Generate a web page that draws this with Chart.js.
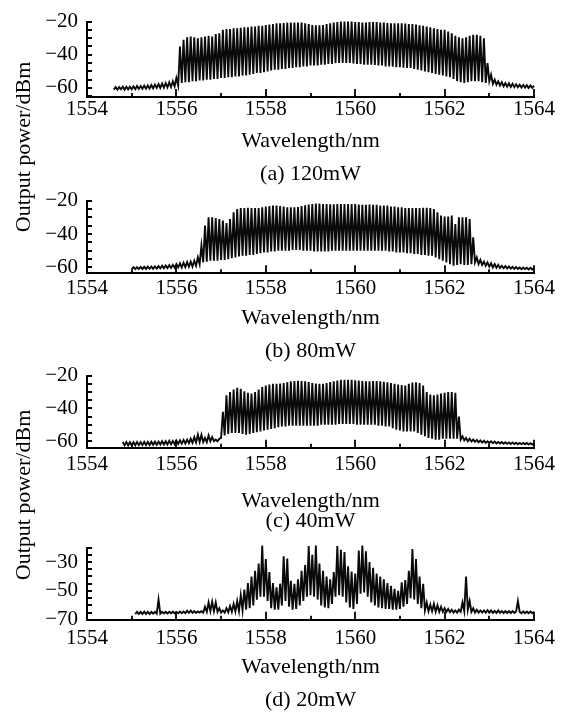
<!DOCTYPE html>
<html><head><meta charset="utf-8">
<script src="https://cdn.jsdelivr.net/npm/chart.js@4.4.1/dist/chart.umd.min.js"></script>
<style>
html,body{margin:0;padding:0;background:#fff;width:568px;height:712px;overflow:hidden;position:relative;font-family:'Liberation Serif','Times New Roman',serif;}
canvas{position:absolute;left:0;}
.ylab{position:absolute;font-size:22px;line-height:22px;white-space:nowrap;transform:translate(-50%,-50%) rotate(-90deg);color:#000;}
</style></head><body>
<canvas id="ca" width="568" height="187" style="top:0px"></canvas>
<canvas id="cb" width="568" height="185" style="top:179px"></canvas>
<canvas id="cc" width="568" height="180" style="top:354px"></canvas>
<canvas id="cd" width="568" height="187" style="top:526px"></canvas>
<div class="ylab" style="left:22.6px;top:147px">Output power/dBm</div>
<div class="ylab" style="left:22.6px;top:495px">Output power/dBm</div>
<script>
// ---- data ----
const wl = [
1554.60,1554.64,1554.68,1554.72,1554.76,1554.80,1554.84,1554.88,1554.92,1554.96,
1555.00,1555.04,1555.08,1555.12,1555.16,1555.20,1555.24,1555.28,1555.32,1555.36,
1555.40,1555.44,1555.48,1555.52,1555.56,1555.60,1555.64,1555.68,1555.72,1555.76,
1555.80,1555.84,1555.88,1555.92,1555.96,1556.00,1556.04,1556.08,1556.12,1556.16,
1556.20,1556.24,1556.28,1556.32,1556.36,1556.40,1556.44,1556.48,1556.52,1556.56,
1556.60,1556.64,1556.68,1556.72,1556.76,1556.80,1556.84,1556.88,1556.92,1556.96,
1557.00,1557.04,1557.08,1557.12,1557.16,1557.20,1557.24,1557.28,1557.32,1557.36,
1557.40,1557.44,1557.48,1557.52,1557.56,1557.60,1557.64,1557.68,1557.72,1557.76,
1557.80,1557.84,1557.88,1557.92,1557.96,1558.00,1558.04,1558.08,1558.12,1558.16,
1558.20,1558.24,1558.28,1558.32,1558.36,1558.40,1558.44,1558.48,1558.52,1558.56,
1558.60,1558.64,1558.68,1558.72,1558.76,1558.80,1558.84,1558.88,1558.92,1558.96,
1559.00,1559.04,1559.08,1559.12,1559.16,1559.20,1559.24,1559.28,1559.32,1559.36,
1559.40,1559.44,1559.48,1559.52,1559.56,1559.60,1559.64,1559.68,1559.72,1559.76,
1559.80,1559.84,1559.88,1559.92,1559.96,1560.00,1560.04,1560.08,1560.12,1560.16,
1560.20,1560.24,1560.28,1560.32,1560.36,1560.40,1560.44,1560.48,1560.52,1560.56,
1560.60,1560.64,1560.68,1560.72,1560.76,1560.80,1560.84,1560.88,1560.92,1560.96,
1561.00,1561.04,1561.08,1561.12,1561.16,1561.20,1561.24,1561.28,1561.32,1561.36,
1561.40,1561.44,1561.48,1561.52,1561.56,1561.60,1561.64,1561.68,1561.72,1561.76,
1561.80,1561.84,1561.88,1561.92,1561.96,1562.00,1562.04,1562.08,1562.12,1562.16,
1562.20,1562.24,1562.28,1562.32,1562.36,1562.40,1562.44,1562.48,1562.52,1562.56,
1562.60,1562.64,1562.68,1562.72,1562.76,1562.80,1562.84,1562.88,1562.92,1562.96,
1563.00,1563.04,1563.08,1563.12,1563.16,1563.20,1563.24,1563.28,1563.32,1563.36,
1563.40,1563.44,1563.48,1563.52,1563.56,1563.60,1563.64,1563.68,1563.72,1563.76,
1563.80,1563.84,1563.88,1563.92,1563.96,1564.00];

// (a) 120 mW, dBm
const powerA = [
-61,-59.5,-61,-59.5,-60.8,-59.3,-61,-59.2,-60.8,-59.2,
-60.8,-59,-60.7,-58.8,-60.6,-58.8,-60.5,-58.6,-60.4,-58.5,
-60.3,-58.2,-60.2,-58,-60,-57.6,-60,-57.3,-59.8,-57,
-59.6,-56.6,-59.4,-56,-59,-54,-58.5,-35,-57,-31,
-56.5,-29.5,-56.5,-29,-56,-29.5,-56,-30,-55.5,-29.5,
-55.5,-29,-55,-28.5,-55,-29,-54.5,-27.5,-54.5,-27,
-54,-25,-54,-24.5,-53.5,-24.5,-53.5,-24,-53,-24,
-53,-23.8,-52.5,-23.5,-52.5,-23.5,-52,-23,-51.5,-23,
-51,-22.5,-51,-22.5,-50.5,-22,-50,-21.8,-49.5,-21.5,
-49,-21,-49,-21,-48.5,-20.8,-48.5,-20.6,-48,-20.6,
-48,-20.5,-47.5,-20.5,-47.5,-20.6,-47,-21,-47,-21.5,
-46.5,-22,-46.5,-22.3,-46.5,-22.3,-46,-22,-46,-21.5,
-45.5,-21,-45.5,-20.5,-45,-20.2,-45,-20,-45,-20,
-45,-20,-45,-20,-45.2,-20.2,-45.5,-20.3,-45.5,-20.5,
-46,-20.5,-46,-20.3,-46,-20.2,-46.2,-20.3,-46.5,-20.5,
-46.5,-20.6,-47,-20.8,-47,-21,-47.2,-21,-47.5,-21,
-47.5,-21,-47.8,-21.2,-48,-21.5,-48,-21.5,-48.5,-21.8,
-49,-22.2,-49.5,-22.5,-50,-23,-50.5,-23.5,-51,-24,
-51.5,-24.5,-52,-25,-52.5,-25,-53,-26,-53.5,-27,
-54.5,-28.5,-56,-29.5,-56.5,-30,-57,-29.5,-56.5,-28.5,
-56,-28,-56,-28,-56,-28.5,-56.5,-30,-57,-45,
-56,-52,-57.5,-55,-58,-56,-58.5,-56.5,-59,-57,
-59.2,-57.2,-59.4,-57.5,-59.5,-57.8,-59.6,-58,-59.7,-58.2,
-59.8,-58.3,-60,-58.5,-60,-58.6];

// (b) 80 mW
const powerB = [
null,null,null,null,null,null,null,null,null,null,
-61,-59.8,-61,-59.8,-61,-59.7,-60.9,-59.6,-60.9,-59.5,
-60.8,-59.4,-60.8,-59.3,-60.7,-59.2,-60.6,-59,-60.5,-58.8,
-60.4,-58.6,-60.3,-58.4,-60.2,-58,-60,-57.6,-60,-57.2,
-59.8,-56.8,-59.6,-56.5,-59.5,-56,-59,-54,-58,-47,
-57,-35,-56.5,-30,-56,-30,-56,-30.5,-56,-31,
-55.5,-32,-55.5,-33.5,-55,-31,-54.5,-27,-54,-25,
-53.5,-24.5,-53,-24.5,-53,-24.3,-52.5,-24.5,-52.5,-24.5,
-52,-24.5,-51.5,-24,-51,-23.5,-51,-23.2,-50.5,-23,
-50.5,-23,-50,-23.2,-50,-23.5,-50,-24,-50,-24,
-49.5,-24,-49.5,-23.8,-49.5,-23.3,-50,-22.8,-50,-22.3,
-50,-22,-50.5,-21.8,-50.5,-21.8,-50.5,-22,-50.5,-22,
-50.5,-22.2,-50,-22.2,-50,-22,-50,-22,-50,-22,
-50,-22,-50,-22,-50,-22,-50,-22.3,-50,-22.5,
-50,-22.5,-50,-22.3,-50,-22.5,-50,-22.5,-50,-23,
-50,-23,-50,-23,-50.5,-23.5,-50.5,-23.5,-51,-24,
-51,-24,-51,-24.5,-51.5,-24.5,-51.5,-24.5,-52,-24.5,
-52,-24.5,-52.5,-24.3,-52.5,-24.3,-53,-24.5,-53,-25,
-54,-27,-55,-29,-56,-29.5,-57,-29.5,-58,-29,
-59,-34,-58.5,-30,-58,-30,-58.5,-30,-58.5,-31,
-58,-42,-57,-54,-58,-55.5,-58.5,-56.5,-59,-57,
-59.5,-57.5,-60,-58,-60.2,-58.5,-60.4,-59,-60.5,-59.2,
-60.6,-59.4,-60.7,-59.6,-60.8,-59.8,-60.9,-60,-61,-60,
-61,-60.2,-61.2,-60.2,-61.2,-60.3];

// (c) 40 mW
const powerC = [
null,null,null,null,null,-60.5,-62.5,-60.5,-62.5,-60.6,
-62.5,-60.6,-62.5,-60.5,-62.4,-60.5,-62.4,-60.4,-62.3,-60.4,
-62.3,-60.3,-62.2,-60.3,-62.2,-60.2,-62,-60,-62,-60,
-62,-59.8,-61.8,-59.8,-61.8,-59.6,-61.6,-59.4,-61.5,-59.2,
-61.4,-59,-61.2,-58.5,-61,-57.5,-60.8,-56,-60.5,-56,
-60.5,-58,-60.5,-56.5,-60,-57.5,-60,-59,-60,-58.5,
-58,-42,-56.5,-32,-55.5,-30,-55,-28.5,-55,-27.5,
-55,-28,-55.5,-29.5,-56,-30.5,-55.5,-31,-55,-30,
-54.5,-28.5,-54,-27,-53.5,-26,-53,-25.5,-52.5,-25,
-52,-25,-51.5,-24.8,-51,-24.5,-51,-24,-50.5,-23.5,
-50.5,-23.3,-50.5,-23.2,-50.5,-23.3,-50.5,-23.5,-50.5,-24,
-50.5,-24.5,-50.5,-24.8,-50.5,-25,-50,-25,-50,-24.5,
-50,-24,-50,-23.5,-50,-23,-49.5,-22.6,-49.5,-22.5,
-49.5,-22.5,-49.5,-22.6,-49.5,-22.8,-50,-23,-50,-23.3,
-50,-23.5,-50,-23.5,-50,-23.3,-50,-23.3,-50.5,-23.5,
-50.5,-23.8,-51,-24,-51,-24.5,-52,-25,-53,-25.5,
-53.5,-25.8,-54,-26,-54,-25,-54,-24.3,-54,-24,
-55,-24.5,-56,-26,-57,-30,-58,-31.5,-58.5,-32,
-59,-31.5,-59,-31,-58.5,-30.5,-58.5,-30,-58.5,-30,
-58.5,-30.5,-58.5,-45,-59,-57,-59.5,-58,-60,-58.5,
-60.2,-59,-60.4,-59.2,-60.6,-59.5,-60.8,-59.7,-61,-60,
-61,-60,-61.2,-60.2,-61.3,-60.4,-61.4,-60.5,-61.5,-60.6,
-61.6,-60.7,-61.7,-60.8,-61.7,-60.9,-61.8,-61,-61.8,-61,
-61.9,-61.1,-62,-61.2,-62,-61.2];

// (d) 20 mW
const powerD = [
null,null,null,null,null,null,null,null,null,null,
null,null,-66,-64.5,-66,-64.5,-66,-64.3,-66,-64.5,
-66,-64.5,-65.8,-64.5,-65.8,-56,-65.8,-64.5,-65.6,-64.4,
-65.6,-64.4,-65.5,-64.4,-65.5,-64.5,-65.5,-64.3,-65.4,-64.3,
-65.4,-63.8,-65.2,-63.6,-65.2,-64,-65.2,-64.2,-65,-64,
-65,-61,-64.5,-58,-64,-57.5,-64,-58,-64.5,-62,
-65,-63.5,-65,-62,-64.8,-60.5,-64.5,-59,-64.2,-57,
-64,-53,-63.5,-49,-63,-44.5,-62,-40,-60,-36,
-56,-31,-54,-18.5,-54,-28,-57,-37,-62,-44.5,
-63,-47.5,-63,-45,-60,-26,-57,-27.5,-61,-43,
-63,-45,-62.5,-42,-60,-36,-57,-32,-54,-19,
-53,-25,-54,-18.5,-56,-31,-60,-36,-61.5,-40,
-62,-42,-59,-37,-54,-19,-53,-21.5,-54,-23,
-58,-33,-61.5,-36.5,-62.5,-38,-59,-22,-52,-18.5,
-51,-22.5,-54,-30,-58,-34,-60,-38,-61.5,-40,
-62,-42,-62.5,-44.5,-62.5,-46.5,-63,-48.5,-63,-50,
-62.5,-44,-61,-42.5,-59,-36,-55,-21,-56,-28,
-59,-40,-62,-45,-63.5,-58,-64,-59.5,-64,-59,
-64.5,-60,-64.5,-61,-64.5,-62,-64.5,-62.5,-64.8,-63,
-65,-63.5,-65,-63,-64.5,-58,-64,-40,-63,-57,
-64.5,-62,-65,-63,-65,-63.5,-65,-63.5,-65,-63.3,
-65,-63.5,-65.2,-63.8,-65.2,-63.5,-65.2,-64,-65.3,-64,
-65.3,-64,-65.3,-64,-65.3,-64.2,-57,-64.5,-65.4,-64.2,
-65.4,-64.3,-65.5,-64.3,-65.5,-64.5];

const xTickVals = [1554,1555,1556,1557,1558,1559,1560,1561,1562,1563,1564];
const xLabelVals = [1554,1556,1558,1560,1562,1564];
const yTicksA = [-65,-60,-55,-50,-45,-40,-35,-30,-25,-20];
const yTicksBC = [-60,-55,-50,-45,-40,-35,-30,-25,-20];
const yTicksD = [-70,-65,-60,-55,-50,-45,-40,-35,-30,-25,-20];
const yLabelsABC = [-60,-40,-20];
const yLabelsD = [-70,-50,-30];
const subtitles = ['(a) 120mW','(b) 80mW','(c) 40mW','(d) 20mW'];

// ---- rendering ----
const FONT = "'Liberation Serif','Times New Roman',serif";
const fmt = v => (v < 0 ? '\u2212' + Math.abs(v) : String(v));

const inwardTicks = {
  id: 'inwardTicks',
  afterDraw(chart) {
    const {ctx, chartArea: a, scales: {x, y}} = chart;
    ctx.save();
    ctx.strokeStyle = '#000';
    ctx.lineWidth = 1.8;
    ctx.beginPath();
    x.ticks.forEach(t => {
      const px = Math.round(x.getPixelForValue(t.value));
      const len = t.label ? 8 : 4;
      ctx.moveTo(px, a.bottom); ctx.lineTo(px, a.bottom - len);
    });
    y.ticks.forEach(t => {
      const py = Math.round(y.getPixelForValue(t.value));
      ctx.moveTo(a.left, py); ctx.lineTo(a.left + 5, py);
    });
    ctx.stroke();
    ctx.restore();
  }
};

function makeChart(id, series, yTicks, yLabels, subtitle, p) {
  new Chart(document.getElementById(id), {
    type: 'line',
    data: { datasets: [{
      data: wl.map((x, i) => ({x: x, y: series[i]})),
      borderColor: '#0a0a0a', borderWidth: 1.9, pointRadius: 0, tension: 0,
      clip: false, spanGaps: false
    }]},
    plugins: [inwardTicks],
    options: {
      responsive: false, animation: false, events: [],
      layout: {padding: {top: 15, left: 0, right: 34, bottom: 0}},
      plugins: {
        legend: {display: false}, tooltip: {enabled: false},
        title: {display: true, position: 'bottom', fullSize: false, text: subtitle, color: '#000',
          font: {family: FONT, size: 22, weight: 'normal'}, padding: {top: p.subPad, bottom: 0}}
      },
      scales: {
        x: {
          type: 'linear', min: 1554, max: 1564,
          grid: {display: false, drawTicks: false},
          border: {display: true, color: '#000', width: 2},
          afterBuildTicks: s => { s.ticks = xTickVals.map(v => ({value: v})); },
          afterFit: s => { s.height = p.xH; },
          ticks: {autoSkip: false, maxRotation: 0, padding: p.tickPad, color: '#000',
            font: {family: FONT, size: 21},
            callback: v => xLabelVals.includes(v) ? String(v) : ''},
          title: {display: true, text: 'Wavelength/nm', color: '#000',
            font: {family: FONT, size: 22}, padding: {top: 0, bottom: 0}}
        },
        y: {
          type: 'linear', min: p.min, max: p.max,
          grid: {display: false, drawTicks: false},
          border: {display: true, color: '#000', width: 2},
          afterBuildTicks: s => { s.ticks = yTicks.map(v => ({value: v})); },
          afterFit: s => { s.width = 87; },
          ticks: {autoSkip: false, padding: 9, color: '#000',
            font: {family: FONT, size: 21},
            callback: v => yLabels.includes(v) ? fmt(v) : ''}
        }
      }
    }
  });
}

makeChart('ca', powerA, yTicksA, yLabelsABC, subtitles[0], {min: -65.5, max: -20, xH: 57, tickPad: 0, subPad: 6.5});
makeChart('cb', powerB, yTicksBC, yLabelsABC, subtitles[1], {min: -63.5, max: -20, xH: 58, tickPad: 3, subPad: 6.3});
makeChart('cc', powerC, yTicksBC, yLabelsABC, subtitles[2], {min: -64, max: -20, xH: 67, tickPad: 4, subPad: -7.2});
makeChart('cd', powerD, yTicksD, yLabelsD, subtitles[3], {min: -70, max: -20, xH: 61, tickPad: 6, subPad: 5.8});
</script>
</body></html>
